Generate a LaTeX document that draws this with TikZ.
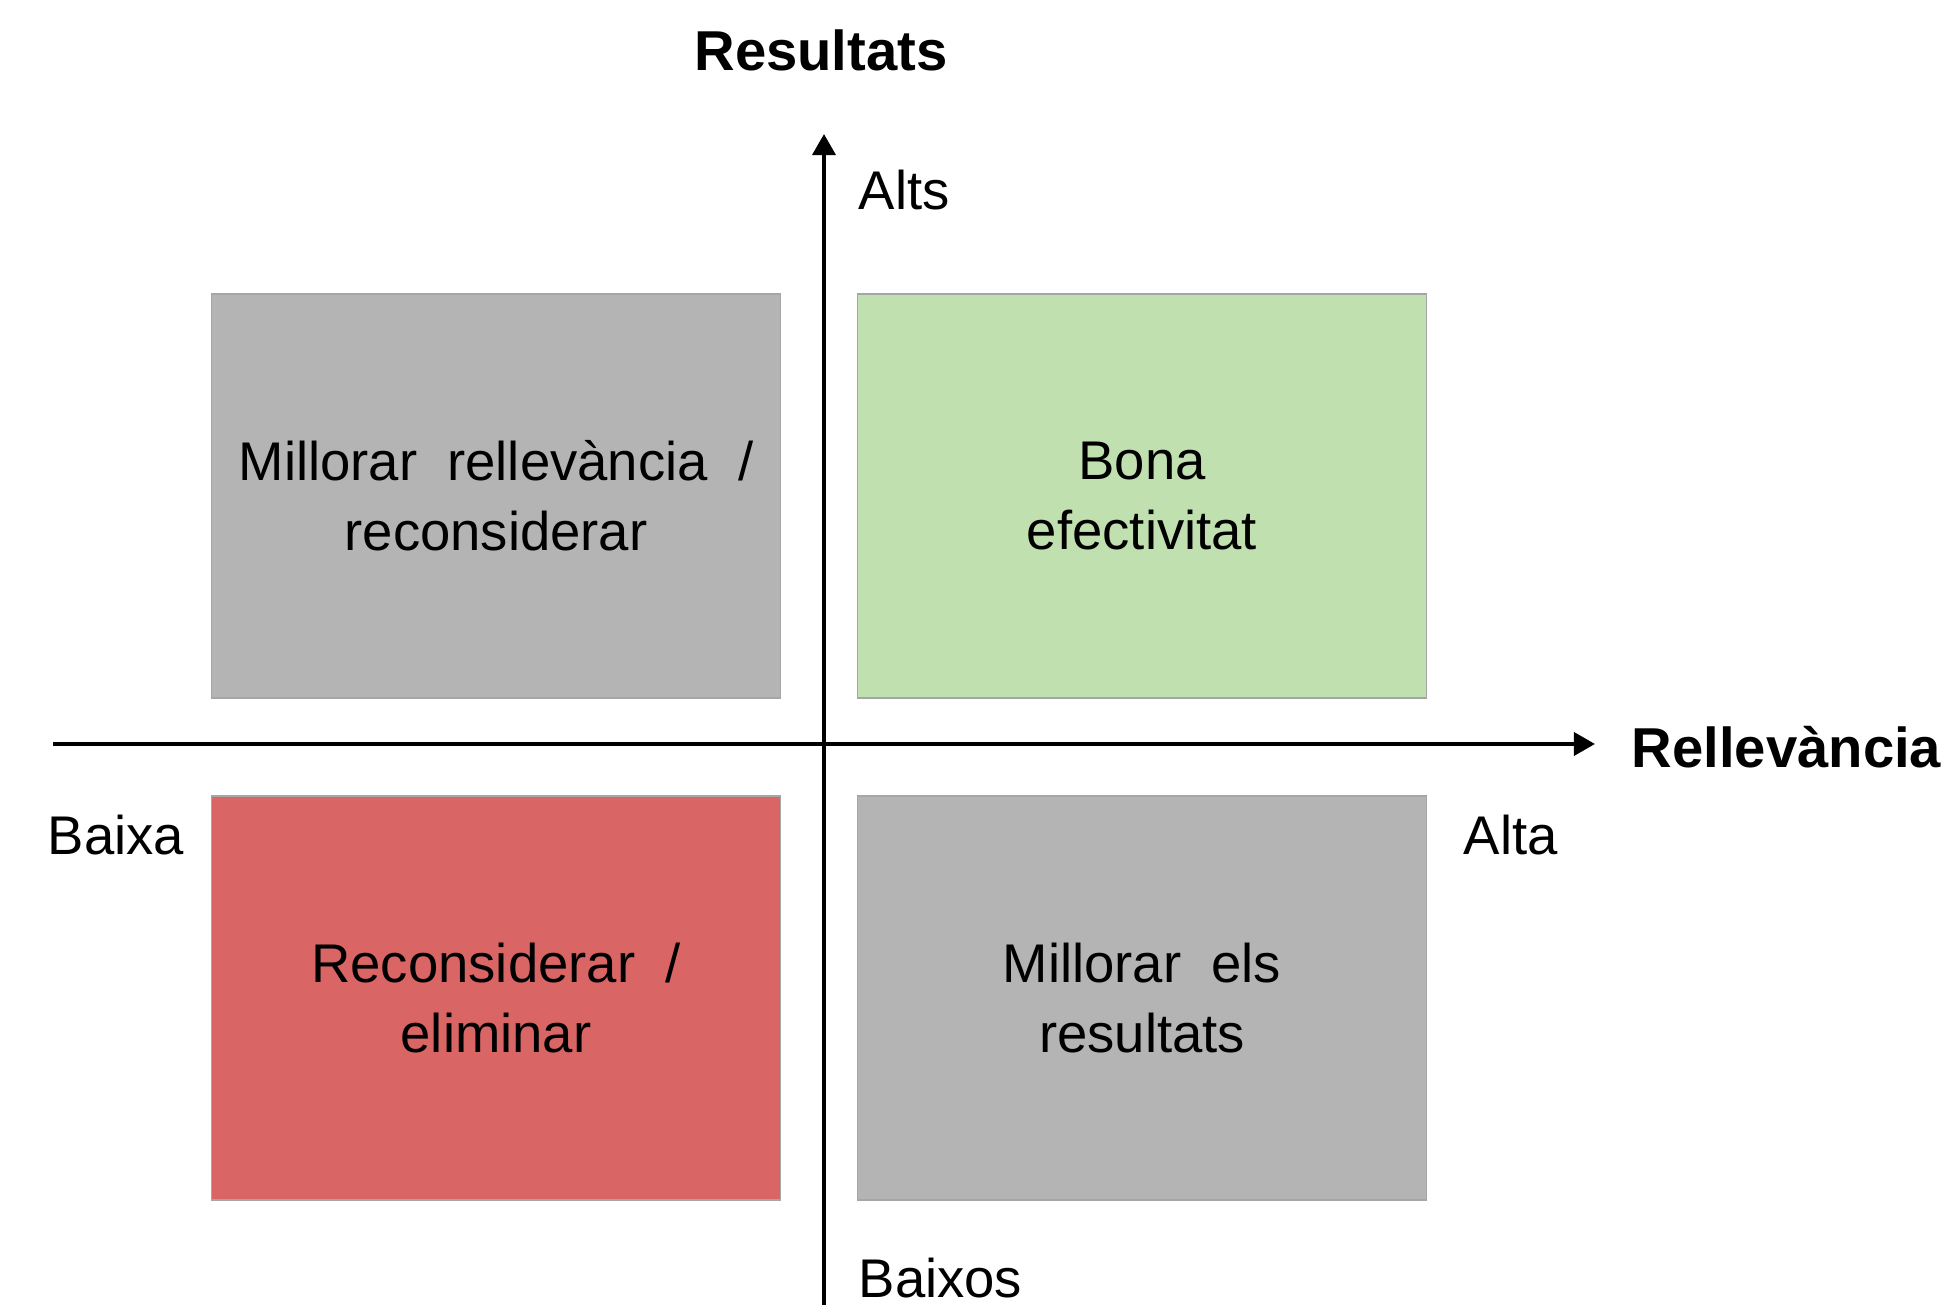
\documentclass[tikz,border=0pt]{standalone}
\usepackage{fontspec}
\setmainfont{Liberation Sans}
\usetikzlibrary{arrows.meta}

\definecolor{quadgray}{RGB}{180,180,180}
\definecolor{quadgreen}{RGB}{193,224,176}
\definecolor{quadred}{RGB}{217,101,101}

\begin{document}
\begin{tikzpicture}[
    % Common Styles
    quad/.style={
        rectangle,
        draw=black!35,
        line width=0.4pt,
        minimum width=5.69cm,
        minimum height=4.04cm,
        align=center,
        inner sep=0pt,
        font=\fontsize{15.5pt}{19.8pt}\selectfont
    },
    axis/.style={
        black,
        line width=1.2pt,
        -{Triangle[width=6.5pt,length=6pt]}
    },
    label_text/.style={
        font=\fontsize{15.5pt}{19.8pt}\selectfont,
        text=black,
        inner sep=0pt
    },
    title_text/.style={
        font=\fontsize{16pt}{19.8pt}\selectfont\bfseries,
        text=black,
        inner sep=0pt
    }
]
    \useasboundingbox (0,0) rectangle (19.48,13.05);

    % ================= QUADRANTS =================
    \node[quad, fill=quadgray]  (hilo) at (4.96, 8.09)  {Millorar\ \ rellevància\ \ /\\reconsiderar};
    \node[quad, fill=quadgreen] (hihi) at (11.42, 8.09) {Bona\\efectivitat};
    \node[quad, fill=quadred]   (lolo) at (4.96, 3.07)  {Reconsiderar\ \ /\\eliminar};
    \node[quad, fill=quadgray]  (lohi) at (11.42, 3.07) {Millorar\ \ els\\resultats};

    % ================= AXES =================
    \coordinate (ybot) at (8.24, 0);
    \coordinate (ytop) at (8.24, 11.71);
    \coordinate (xlft) at (0.53, 5.61);
    \coordinate (xrgt) at (15.95, 5.61);

    \draw[axis] (ybot) -- (ytop);
    \draw[axis] (xlft) -- (xrgt);

    % Titles
    \node[title_text] (restit) at (8.21, 12.55) {Resultats};
    \node[title_text, anchor=west] (reltit) at (16.31, 5.58) {Rellevància};

    % Labels
    \node[label_text, anchor=west] (alts)   at (8.58, 11.15) {Alts};
    \node[label_text, anchor=west] (baixos) at (8.58, 0.27)  {Baixos};
    \node[label_text, anchor=west] (baixa)  at (0.47, 4.70)  {Baixa};
    \node[label_text, anchor=west] (alta)   at (14.63, 4.70) {Alta};

\end{tikzpicture}
\end{document}
